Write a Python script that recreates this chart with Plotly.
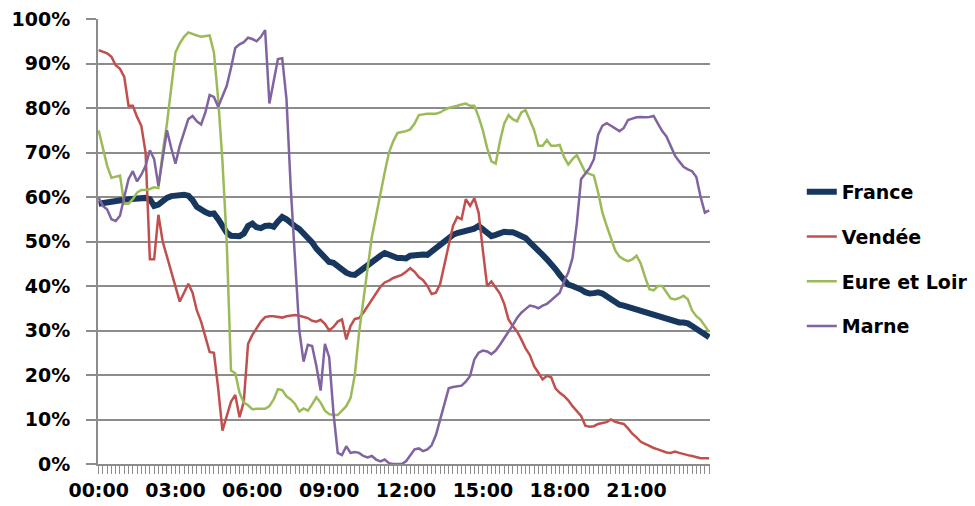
import plotly.graph_objects as go

# Time of day, one reading every 10 minutes
times = [f"{h:02d}:{m:02d}" for h in range(24) for m in range(0, 60, 10)]

# Share (%) per series, one value per 10-minute slot
france = [
    58.5, 58.7, 58.8, 59.0, 59.2, 59.3, 59.4, 59.5, 59.6, 59.8, 59.7, 59.8,
    59.5, 58.0, 58.3, 59.2, 59.8, 60.2, 60.4, 60.3, 60.5, 60.3, 59.3, 57.8,
    57.0, 56.6, 56.2, 56.3, 55.0, 53.5, 52.0, 51.3, 51.4, 51.2, 51.8, 53.5,
    54.0, 53.2, 53.0, 53.5, 53.6, 53.3, 54.5, 55.5, 55.0, 54.0, 53.4, 52.8,
    51.8, 51.0, 49.8, 48.4, 47.5, 46.4, 45.4, 45.2, 44.5, 43.5, 43.0, 42.6,
    42.5, 43.2, 44.0, 44.8, 45.6, 46.3, 46.8, 47.4, 47.0, 46.5, 46.3, 46.3,
    46.2, 46.8, 47.0, 47.2, 47.1, 47.0, 47.8, 48.6, 49.5, 50.3, 50.9, 51.5,
    51.9, 52.1, 52.2, 52.5, 52.9, 53.5, 52.8, 51.8, 51.2, 51.5, 52.0, 52.2,
    52.1, 52.1, 51.7, 51.2, 50.8, 49.8, 49.0, 48.0, 47.0, 46.0, 45.0, 43.8,
    42.5, 41.3, 40.3, 40.0, 39.7, 39.2, 38.6, 38.3, 38.4, 38.6, 38.3, 37.7,
    37.0, 36.3, 35.8, 35.6, 35.3, 35.0, 34.6, 34.2, 33.9, 33.6, 33.3, 33.0,
    32.8, 32.5, 32.2, 31.9, 31.8, 31.8, 31.6, 31.0, 30.4, 29.8, 29.0, 28.5,
]

vendee = [
    93.0, 92.6, 92.3, 91.5, 89.6, 88.8, 87.0, 80.5, 80.5, 78.0, 76.0, 70.0,
    46.0, 46.0, 56.0, 50.0, 46.5, 43.0, 40.0, 36.5, 38.5, 40.5, 38.5, 34.5,
    32.0, 28.5, 25.2, 25.0, 17.0, 7.5, 11.0, 14.0, 15.5, 10.5, 14.0, 27.0,
    29.0, 30.5, 32.0, 33.0, 33.2, 33.2, 33.0, 32.9, 33.2, 33.4, 33.5, 33.3,
    33.0, 32.8, 32.2, 32.0, 32.4, 31.5, 30.0, 30.8, 32.0, 32.5, 28.0, 31.0,
    32.6, 32.8, 34.0, 35.5, 37.0, 38.5, 39.8, 40.8, 41.2, 41.8, 42.2, 42.5,
    43.2, 44.0, 43.2, 42.0, 41.3, 40.0, 38.2, 38.5, 40.5, 45.0, 49.5, 53.5,
    55.5, 55.0, 59.5, 58.0, 59.7, 56.5, 48.0, 40.0, 41.0, 39.5, 38.3, 36.0,
    32.5, 31.0, 29.8, 28.0, 26.0, 24.5, 22.0, 20.5, 19.0, 19.8, 19.5, 17.0,
    16.0, 15.3, 14.3, 13.0, 12.0, 10.8, 8.6, 8.4, 8.5, 9.0, 9.2, 9.4,
    10.0, 9.5, 9.2, 9.0, 8.0, 6.8, 6.0, 5.0, 4.5, 4.0, 3.6, 3.3,
    3.0, 2.6, 2.5, 2.8, 2.5, 2.2, 2.0, 1.8, 1.6, 1.3, 1.3, 1.3,
]

eure_et_loir = [
    75.0, 71.0, 67.0, 64.3, 64.5, 64.8, 58.5, 58.5, 59.5, 61.0, 61.6, 61.6,
    61.8, 62.2, 62.0, 70.0, 76.5, 84.0, 92.5, 94.5, 96.0, 97.0, 96.6, 96.3,
    96.0, 96.2, 96.3, 92.5, 82.0, 68.0, 50.0, 21.0, 20.4, 16.0, 13.8, 13.2,
    12.3, 12.4, 12.4, 12.4, 13.0, 14.5, 16.8, 16.6, 15.2, 14.5, 13.5, 11.8,
    12.5, 12.0, 13.4, 15.0, 13.8, 12.0, 11.2, 11.0, 11.0, 12.0, 13.0, 14.8,
    20.0, 29.5, 37.3, 44.0, 51.0, 56.0, 61.0, 65.5, 70.0, 72.5, 74.4, 74.6,
    74.8, 75.2, 76.5, 78.4, 78.6, 78.7, 78.7, 78.7, 79.0, 79.6, 80.0, 80.2,
    80.5, 80.8, 81.0, 80.5, 80.5, 78.0, 75.0, 71.0, 68.0, 67.5, 72.5, 76.5,
    78.4, 77.5, 77.0, 79.0, 79.5, 77.3, 75.0, 71.5, 71.5, 72.8, 71.5, 71.5,
    71.7, 69.0, 67.3, 68.5, 69.4, 67.5, 65.5, 65.2, 64.8, 61.0, 56.5, 53.5,
    50.5, 48.0, 46.6, 46.0, 45.6, 46.0, 46.8, 45.0, 42.0, 39.3, 39.0, 40.0,
    40.0, 38.5, 37.2, 37.0, 37.3, 37.8, 37.0, 34.5, 33.2, 32.4, 31.0, 29.7,
]

marne = [
    59.8, 58.0, 57.2, 55.0, 54.6, 55.8, 60.0, 64.0, 65.8, 63.5, 65.0, 67.0,
    70.5, 68.5, 62.5, 69.0, 75.0, 71.0, 67.5, 71.5, 74.8, 77.5, 78.2, 77.0,
    76.3, 79.0, 82.9, 82.5, 80.3, 82.5, 85.0, 89.0, 93.5, 94.3, 94.8, 95.8,
    95.5, 95.0, 96.0, 97.5, 81.0, 86.0, 91.0, 91.2, 82.0, 62.0, 45.0, 30.0,
    23.0, 26.8, 26.5, 22.0, 16.5, 27.0, 24.0, 11.5, 2.5, 2.0, 4.0, 2.5,
    2.7, 2.5, 1.8, 1.5, 1.8, 1.0, 0.6, 1.0, 0.2, 0.0, 0.0, 0.0,
    0.6, 2.0, 3.3, 3.5, 2.9, 3.3, 4.2, 6.5, 10.0, 14.0, 17.0, 17.3,
    17.5, 17.6, 18.5, 19.8, 23.5, 25.0, 25.5, 25.3, 24.7, 25.5, 26.8, 28.2,
    29.8, 31.2, 32.8, 34.0, 34.8, 35.6, 35.4, 35.0, 35.6, 36.0, 36.8, 37.6,
    38.5, 41.0, 43.0, 46.3, 54.0, 64.0, 65.3, 66.5, 68.5, 74.0, 76.0, 76.6,
    76.0, 75.3, 74.8, 75.5, 77.3, 77.6, 77.9, 78.0, 77.9, 78.0, 78.2, 76.5,
    74.8, 73.6, 71.5, 69.3, 68.0, 66.8, 66.2, 65.8, 64.5, 60.0, 56.5, 57.0,
]

series = [
    ("France", france, "#17375E", 6),
    ("Vendée", vendee, "#C0504D", 2.5),
    ("Eure et Loir", eure_et_loir, "#9BBB59", 2.5),
    ("Marne", marne, "#8064A2", 2.5),
]

x = ["2020-01-01 " + t for t in times]

fig = go.Figure()
for name, vals, color, width in series:
    fig.add_trace(go.Scatter(
        x=x, y=[v / 100 for v in vals], name=name, mode="lines",
        line=dict(color=color, width=width),
        legendgroup=name,
    ))

grid = "#8C8C8C"
font = dict(family="DejaVu Sans", size=19, color="black", weight="bold")

fig.update_layout(
    width=975, height=506,
    margin=dict(l=98, r=265, t=19, b=42, autoexpand=False),
    paper_bgcolor="white", plot_bgcolor="white",
    font=font,
    showlegend=True,
    legend=dict(
        x=1.150, xanchor="left", y=0.654, yanchor="top",
        font=font, tracegroupgap=17, bgcolor="rgba(0,0,0,0)",
        itemwidth=30,
    ),
    xaxis=dict(
        type="date",
        range=["2019-12-31 23:58:30", "2020-01-01 23:52"],
        tickformat="%H:%M", dtick=3 * 3600 * 1000,
        tick0="2020-01-01 00:00",
        ticks="outside", ticklen=8, tickcolor=grid, tickwidth=1,
        minor=dict(dtick=600000, ticks="outside", ticklen=8,
                   tickcolor=grid, tickwidth=1, showgrid=False),
        showgrid=False, showline=True, linecolor=grid, linewidth=2,
        tickfont=font, automargin=False,
        zeroline=False,
    ),
    yaxis=dict(
        range=[0, 1], tickformat=".0%", dtick=0.1,
        showgrid=True, gridcolor=grid, gridwidth=2,
        ticks="outside", ticklen=10, tickcolor=grid, tickwidth=2,
        showline=True, linecolor=grid, linewidth=2,
        tickfont=font, ticklabelstandoff=12, automargin=False,
        zeroline=False,
    ),
)

fig.write_html("out.html")
